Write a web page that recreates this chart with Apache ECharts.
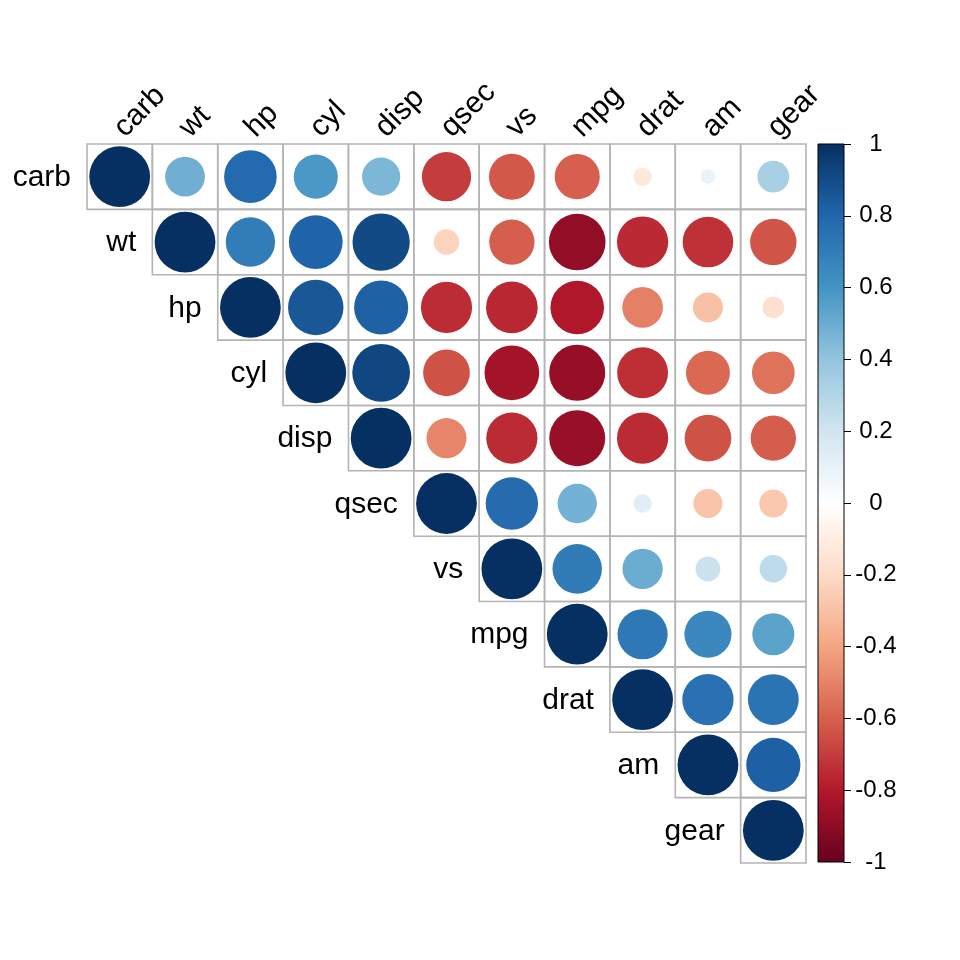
<!DOCTYPE html>
<html>
<head>
<meta charset="utf-8">
<script src="https://cdn.jsdelivr.net/npm/echarts@6/dist/echarts.min.js"></script>
<style>
  html, body { margin: 0; padding: 0; background: #fff; }
  #main { width: 960px; height: 960px; }
</style>
</head>
<body>
<div id="main"></div>
<script>
// variable order (hclust)
var vars = ['carb', 'wt', 'hp', 'cyl', 'disp', 'qsec', 'vs', 'mpg', 'drat', 'am', 'gear'];

// upper triangle, each row starts at the diagonal
var rowCarb = [1, 0.428, 0.750, 0.527, 0.395, -0.656, -0.570, -0.551, -0.091, 0.058, 0.274];
var rowWt   = [1, 0.659, 0.782, 0.888, -0.175, -0.555, -0.868, -0.712, -0.692, -0.583];
var rowHp   = [1, 0.832, 0.791, -0.708, -0.723, -0.776, -0.449, -0.243, -0.126];
var rowCyl  = [1, 0.902, -0.591, -0.811, -0.852, -0.700, -0.523, -0.493];
var rowDisp = [1, -0.434, -0.710, -0.848, -0.710, -0.591, -0.556];
var rowQsec = [1, 0.745, 0.419, 0.091, -0.230, -0.213];
var rowVs   = [1, 0.664, 0.440, 0.168, 0.206];
var rowMpg  = [1, 0.681, 0.600, 0.480];
var rowDrat = [1, 0.713, 0.700];
var rowAm   = [1, 0.794];
var rowGear = [1];

// RdBu, from -1 to 1
var palette = ['#67001F', '#B2182B', '#D6604D', '#F4A582', '#FDDBC7', '#FFFFFF',
               '#D1E5F0', '#92C5DE', '#4393C3', '#2166AC', '#053061'];

var FONT = 'Liberation Sans, Arial, sans-serif';

var rows = [rowCarb, rowWt, rowHp, rowCyl, rowDisp, rowQsec, rowVs, rowMpg, rowDrat, rowAm, rowGear];
var cells = [];
rows.forEach(function (row, i) {
    row.forEach(function (v, k) {
        cells.push([i + k, i, v]);
    });
});

function corrColor(v) {
    // circles in the reference read a bit deeper than the bar
    var t = (v < 0 ? -1 : 1) * Math.pow(Math.abs(v), 0.85);
    return echarts.color.lerp((t + 1) / 2, palette);
}

var chart = echarts.init(document.getElementById('main'));

var option = {
    backgroundColor: '#fff',
    animation: false,
    grid: [
        {left: 87, top: 144, width: 719, height: 719},
        {left: 818, top: 144, width: 26, height: 718}
    ],
    xAxis: [
        {gridIndex: 0, type: 'category', data: vars, show: false},
        {gridIndex: 1, type: 'category', data: [''], show: false}
    ],
    yAxis: [
        {gridIndex: 0, type: 'category', inverse: true, data: vars, show: false},
        {
            gridIndex: 1,
            type: 'value',
            position: 'right',
            min: -1,
            max: 1,
            interval: 0.2,
            splitLine: {show: false},
            axisLine: {show: false},
            axisTick: {show: true, length: 7, lineStyle: {color: '#000', width: 1}},
            axisLabel: {
                margin: 32,
                align: 'center',
                fontSize: 24,
                color: '#000',
                fontFamily: FONT,
                formatter: function (v) {
                    return String(Math.round(v * 10) / 10);
                }
            }
        }
    ],
    series: [
        {
            type: 'custom',
            xAxisIndex: 0,
            yAxisIndex: 0,
            data: cells,
            renderItem: function (params, api) {
                var xi = api.value(0), yi = api.value(1), r = api.value(2);
                var c = api.coord([xi, yi]);
                var s = api.size([1, 1]);
                var children = [
                    {
                        type: 'rect',
                        shape: {x: c[0] - s[0] / 2, y: c[1] - s[1] / 2, width: s[0], height: s[1]},
                        style: {fill: null, stroke: '#b4b4b4', lineWidth: 1.6}
                    },
                    {
                        type: 'circle',
                        shape: {cx: c[0], cy: c[1], r: s[0] * 0.465 * Math.sqrt(Math.abs(r))},
                        style: {fill: corrColor(r)}
                    }
                ];
                if (xi === yi) {
                    children.push({
                        type: 'text',
                        style: {
                            x: c[0] - s[0] / 2 - 16,
                            y: c[1] + 1,
                            text: vars[yi],
                            fill: '#000',
                            fontSize: 30,
                            fontFamily: FONT,
                            align: 'right',
                            verticalAlign: 'middle'
                        }
                    });
                }
                if (yi === 0) {
                    children.push({
                        type: 'text',
                        x: c[0] + 10,
                        y: c[1] - s[1] / 2 - 1,
                        rotation: Math.PI / 4,
                        style: {
                            x: 0,
                            y: 0,
                            text: vars[xi],
                            fill: '#000',
                            fontSize: 30,
                            fontFamily: FONT,
                            align: 'left',
                            verticalAlign: 'bottom'
                        }
                    });
                }
                return {type: 'group', children: children};
            }
        },
        {
            type: 'custom',
            xAxisIndex: 1,
            yAxisIndex: 1,
            data: [[0, 1]],
            renderItem: function (params, api) {
                var top = api.coord([0, 1]);
                var bottom = api.coord([0, -1]);
                var w = api.size([1, 0])[0];
                var stops = palette.slice().reverse().map(function (col, i) {
                    return {offset: i / (palette.length - 1), color: col};
                });
                return {
                    type: 'rect',
                    shape: {x: top[0] - w / 2, y: top[1], width: w, height: bottom[1] - top[1]},
                    style: {
                        fill: new echarts.graphic.LinearGradient(0, 0, 0, 1, stops),
                        stroke: '#000',
                        lineWidth: 1
                    }
                };
            }
        }
    ]
};

chart.setOption(option);
</script>
</body>
</html>
